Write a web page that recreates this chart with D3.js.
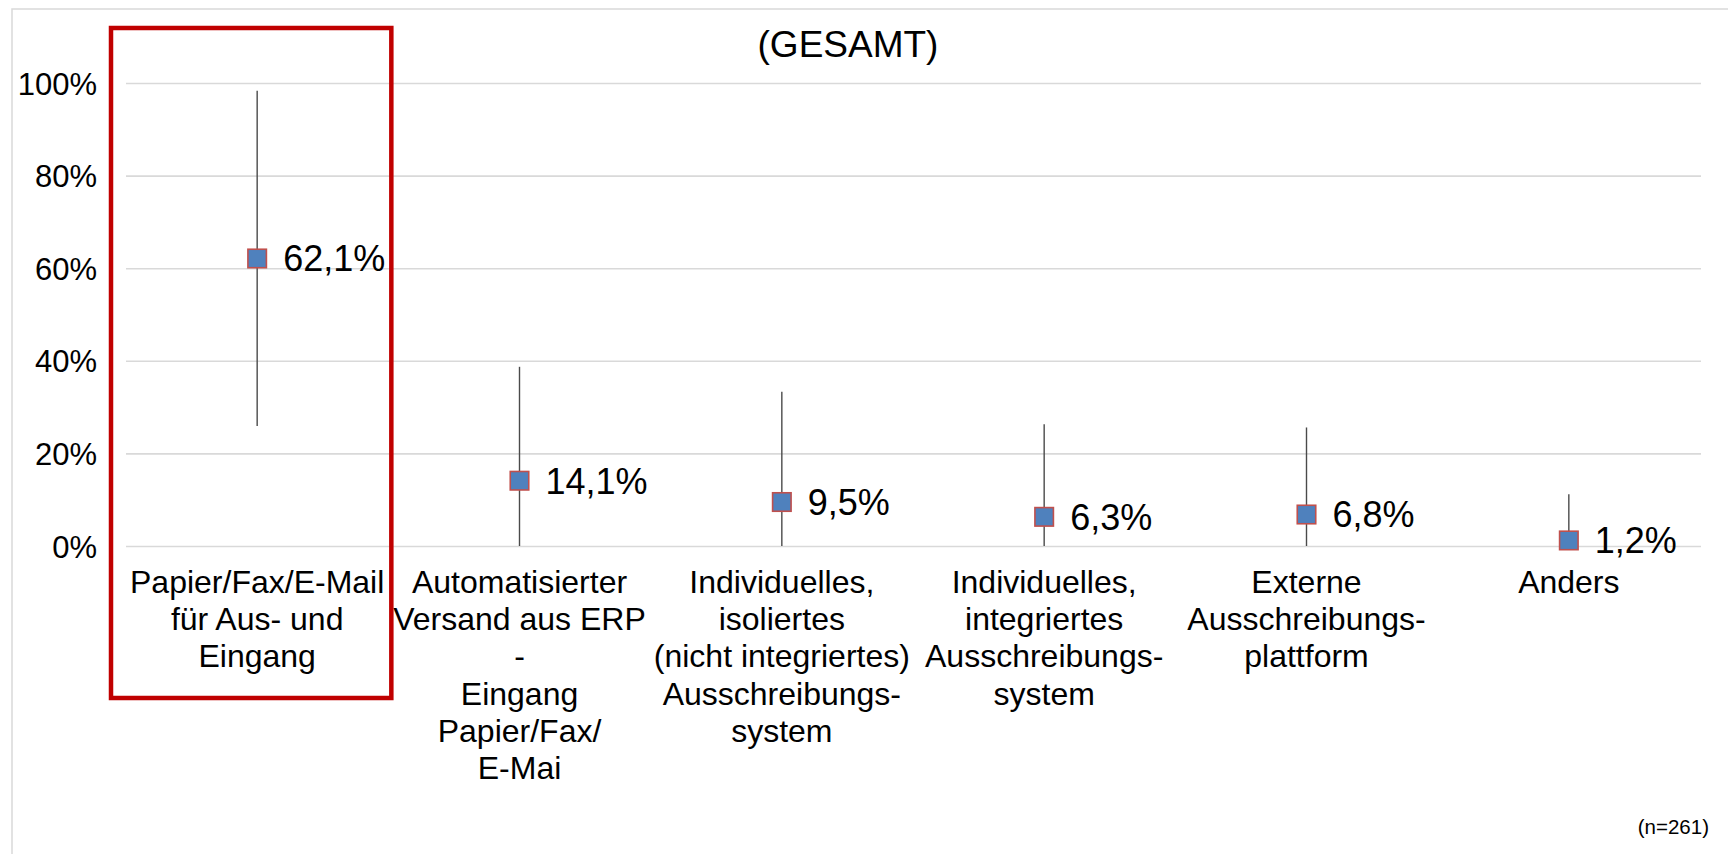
<!DOCTYPE html>
<html>
<head>
<meta charset="utf-8">
<script src="https://cdn.jsdelivr.net/npm/d3@7"></script>
<style>
  html, body { margin: 0; padding: 0; background: #fff; }
  svg { display: block; font-family: "Liberation Sans", Arial, sans-serif; }
</style>
</head>
<body>
<svg id="chart" width="1728" height="854"></svg>
<script>
// ---- data ----
const categories = [
  "Papier/Fax/E-Mail\nfür Aus- und\nEingang",
  "Automatisierter\nVersand aus ERP\n-\nEingang\nPapier/Fax/\nE-Mai",
  "Individuelles,\nisoliertes\n(nicht integriertes)\nAusschreibungs-\nsystem",
  "Individuelles,\nintegriertes\nAusschreibungs-\nsystem",
  "Externe\nAusschreibungs-\nplattform",
  "Anders"
];
const values     = [62.1, 14.1, 9.5, 6.3, 6.8, 1.2];
const valueLabels = ["62,1%", "14,1%", "9,5%", "6,3%", "6,8%", "1,2%"];
const errUpper   = [98.3, 38.7, 33.3, 26.3, 25.6, 11.2];
const errLower   = [25.9, 0, 0, 0, 0, 0];
const yTicks     = [0, 20, 40, 60, 80, 100];
const yTickLabels = ["0%", "20%", "40%", "60%", "80%", "100%"];
const title = "(GESAMT)";
const note = "(n=261)";
const highlightIndex = 0;

// ---- layout ----
const svg = d3.select("#chart");
const plot = { left: 126, right: 1700, top: 83, bottom: 546 };

const x = d3.scaleBand().domain(d3.range(categories.length)).range([plot.left, plot.right]).padding(0);
const y = d3.scaleLinear().domain([0, 100]).range([plot.bottom, plot.top]);

// outer chart border (extends past the right/bottom of the picture)
svg.append("rect")
  .attr("x", 12).attr("y", 9).attr("width", 1740).attr("height", 880)
  .attr("fill", "none").attr("stroke", "#d9d9d9").attr("stroke-width", 1.5);

// gridlines
const yAxis = d3.axisLeft(y).tickValues(yTicks)
  .tickSize(-(plot.right - plot.left + 1))
  .tickFormat((d, i) => yTickLabels[i]);
const gy = svg.append("g").attr("transform", `translate(${plot.left},0)`).call(yAxis);
gy.select(".domain").remove();
gy.selectAll(".tick line").attr("stroke", "#d9d9d9").attr("stroke-width", 1.6);
gy.selectAll(".tick text")
  .attr("x", -29).attr("dy", "0.36em")
  .attr("fill", "#000").style("font-size", "31px")
  .style("font-family", "'Liberation Sans', Arial, sans-serif");

// title
svg.append("text")
  .attr("x", 848).attr("y", 57)
  .attr("text-anchor", "middle")
  .style("font-size", "37px").attr("fill", "#000")
  .text(title);

// category labels
const cx = i => x(i) + x.bandwidth() / 2;
const catG = svg.append("g");
categories.forEach((c, i) => {
  const t = catG.append("text")
    .attr("text-anchor", "middle")
    .style("font-size", "32px").attr("fill", "#000");
  c.split("\n").forEach((line, k) => {
    t.append("tspan").attr("x", cx(i)).attr("y", 593 + k * 37.2).text(line);
  });
});

// error bars
svg.append("g").selectAll("line").data(values).join("line")
  .attr("x1", (d, i) => cx(i)).attr("x2", (d, i) => cx(i))
  .attr("y1", (d, i) => y(errUpper[i]))
  .attr("y2", (d, i) => y(errLower[i]))
  .attr("stroke", "#4a4a4a").attr("stroke-width", 1.4);

// markers
const ms = 18.5;
svg.append("g").selectAll("rect").data(values).join("rect")
  .attr("x", (d, i) => cx(i) - ms / 2)
  .attr("y", d => y(d) - ms / 2)
  .attr("width", ms).attr("height", ms)
  .attr("fill", "#4f81bd").attr("stroke", "#c0504d").attr("stroke-width", 1.6);

// value labels
svg.append("g").selectAll("text").data(values).join("text")
  .attr("x", (d, i) => cx(i) + 26)
  .attr("y", d => y(d))
  .attr("dy", "0.36em")
  .style("font-size", "36px").attr("fill", "#000")
  .text((d, i) => valueLabels[i]);

// highlight box around first category
svg.append("rect")
  .attr("x", x(highlightIndex) - 15)
  .attr("y", 28)
  .attr("width", x.bandwidth() + 18)
  .attr("height", 670)
  .attr("fill", "none").attr("stroke", "#c00000").attr("stroke-width", 4.5);

// sample size note
svg.append("text")
  .attr("x", 1709).attr("y", 834)
  .attr("text-anchor", "end")
  .style("font-size", "20.5px").attr("fill", "#000")
  .text(note);
</script>
</body>
</html>
